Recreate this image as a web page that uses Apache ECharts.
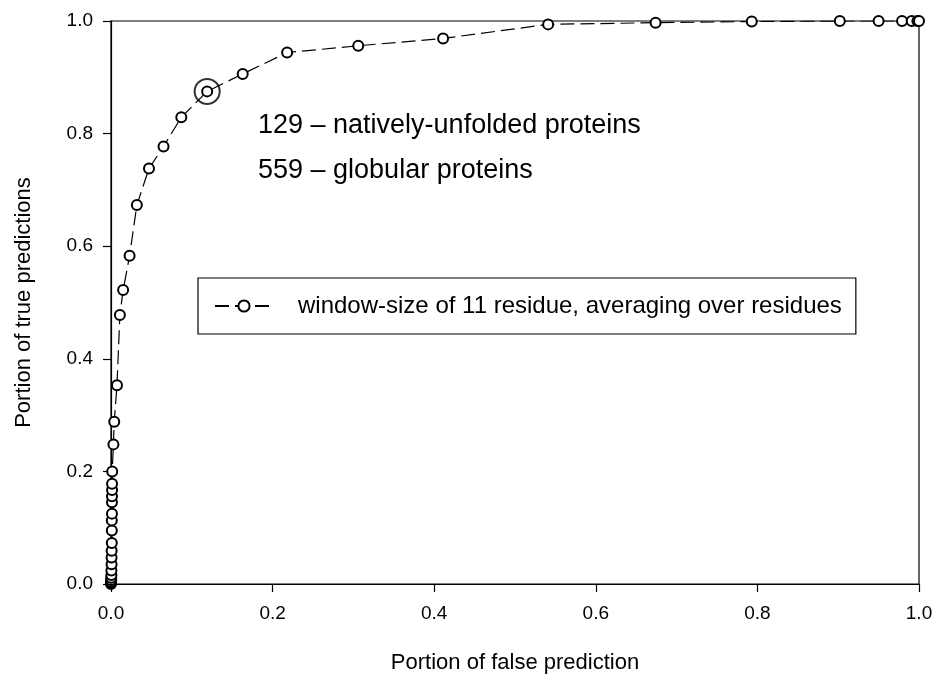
<!DOCTYPE html>
<html>
<head>
<meta charset="utf-8">
<script src="https://cdn.jsdelivr.net/npm/echarts@6/dist/echarts.min.js"></script>
<style>
html,body{margin:0;padding:0;background:#fff;}
#chart{width:937px;height:679px;}
</style>
</head>
<body>
<div id="chart"></div>
<script>
// ---- data ----
var seriesName = 'window-size of 11 residue, averaging over residues';
var falseRate = [0, 0, 0, 0.0003, 0.0003, 0.0005, 0.0005, 0.0007, 0.0007, 0.0008, 0.001, 0.001, 0.001, 0.0012, 0.0012, 0.0012, 0.0013, 0.0013, 0.0015,
  0.003, 0.004, 0.0074, 0.011, 0.015, 0.023, 0.032, 0.047, 0.065, 0.087, 0.119, 0.163, 0.218, 0.306, 0.411, 0.541, 0.674, 0.793, 0.902, 0.950, 0.979, 0.991, 0.998, 1.0];
var trueRate = [0, 0.002, 0.004, 0.007, 0.011, 0.016, 0.024, 0.035, 0.047, 0.059, 0.073, 0.095, 0.113, 0.125, 0.145, 0.156, 0.167, 0.178, 0.2,
  0.248, 0.288, 0.353, 0.478, 0.522, 0.583, 0.673, 0.738, 0.777, 0.829, 0.875, 0.906, 0.944, 0.956, 0.969, 0.994, 0.997, 0.999, 1.0, 1.0, 1.0, 1.0, 1.0, 1.0];
var highlightPoint = [0.119, 0.875];
var annotationLines = ['129 \u2013 natively-unfolded proteins', '559 \u2013 globular proteins'];
var xTitle = 'Portion of false prediction';
var yTitle = 'Portion of true predictions';

var FONT = '"Liberation Sans", Arial, sans-serif';
var points = falseRate.map(function (x, i) { return [x, trueRate[i]]; });

var chart = echarts.init(document.getElementById('chart'), null, {renderer: 'canvas'});
chart.setOption({
  animation: false,
  backgroundColor: '#fff',
  grid: {left: 111, right: 18, top: 21, bottom: 90, show: true, borderColor: '#000', borderWidth: 1.2, backgroundColor: 'transparent'},
  xAxis: {
    type: 'value', min: 0, max: 1, interval: 0.2,
    name: xTitle, nameLocation: 'middle', nameGap: 68,
    nameTextStyle: {fontFamily: FONT, fontSize: 22, color: '#000'},
    axisLine: {show: true, lineStyle: {color: '#000', width: 1.2}},
    axisTick: {show: true, inside: false, length: 8, lineStyle: {color: '#000', width: 1.2}},
    axisLabel: {margin: 20, fontFamily: FONT, fontSize: 19, color: '#000', formatter: function (v) { return v.toFixed(1); }},
    splitLine: {show: false}
  },
  yAxis: {
    type: 'value', min: 0, max: 1, interval: 0.2,
    name: yTitle, nameLocation: 'middle', nameGap: 76, nameRotate: 90,
    nameTextStyle: {fontFamily: FONT, fontSize: 22, color: '#000'},
    axisLine: {show: true, lineStyle: {color: '#000', width: 1.2}},
    axisTick: {show: true, inside: false, length: 8, lineStyle: {color: '#000', width: 1.2}},
    axisLabel: {margin: 18, fontFamily: FONT, fontSize: 19, color: '#000', formatter: function (v) { return v.toFixed(1); }},
    splitLine: {show: false}
  },
  legend: {
    data: [seriesName],
    left: 198, top: 278,
    orient: 'horizontal',
    backgroundColor: '#fff',
    borderColor: '#000', borderWidth: 1.2,
    padding: [16, 14, 16, 16],
    itemWidth: 58, itemHeight: 14,
    textStyle: {fontFamily: FONT, fontSize: 24, color: '#000', padding: [0, 0, 0, 20]}
  },
  graphic: [
    {type: 'text', left: 258, top: 112, style: {text: annotationLines[0], font: '27px ' + FONT, fill: '#000'}},
    {type: 'text', left: 258, top: 157, style: {text: annotationLines[1], font: '27px ' + FONT, fill: '#000'}}
  ],
  series: [
    {
      name: seriesName,
      type: 'line',
      data: points,
      symbol: 'emptyCircle',
      symbolSize: 10,
      showSymbol: true,
      showAllSymbol: true,
      color: '#000',
      lineStyle: {color: '#000', width: 1.2, type: [14, 6]},
      itemStyle: {color: '#000', borderColor: '#000', borderWidth: 1.2},
      z: 3
    },
    {
      name: 'highlight',
      type: 'scatter',
      data: [highlightPoint],
      symbol: 'emptyCircle',
      symbolSize: 25,
      itemStyle: {color: '#000', borderColor: '#000', borderWidth: 1},
      z: 2
    }
  ]
});
</script>
</body>
</html>
